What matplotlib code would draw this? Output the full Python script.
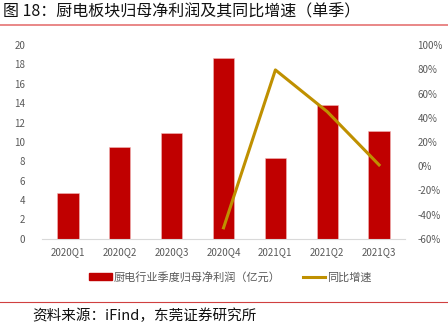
import matplotlib
matplotlib.use("Agg")
import matplotlib.pyplot as plt
from matplotlib.lines import Line2D
from matplotlib.patches import Patch
from matplotlib.ticker import FuncFormatter

plt.rcParams['font.family'] = ['Noto Sans CJK SC', 'DejaVu Sans']

quarters = ["2020Q1", "2020Q2", "2020Q3", "2020Q4", "2021Q1", "2021Q2", "2021Q3"]
net_profit = [4.7, 9.5, 10.9, 18.7, 8.3, 13.8, 11.1]
yoy_quarters = ["2020Q4", "2021Q1", "2021Q2", "2021Q3"]
yoy_growth = [-51.0, 79.5, 45.0, 1.0]

bar_color = "#C00000"
line_color = "#BF9000"
tick_color = "#595959"

fig = plt.figure(figsize=(4.48, 3.27), dpi=100)
ax = fig.add_axes([0.094, 0.270, 0.810, 0.592])

x = list(range(len(quarters)))
ax.bar(x, net_profit, width=0.41, color=bar_color, edgecolor="#F2B8B8", linewidth=0.4, zorder=2)
ax.set_xlim(-0.5, len(quarters) - 0.5)
ax.set_ylim(0, 20)
ax.set_yticks(range(0, 21, 2))
ax.set_xticks(x)
ax.set_xticklabels(quarters)

ax2 = ax.twinx()
line_x = [quarters.index(q) for q in yoy_quarters]
ax2.plot(line_x, yoy_growth, color=line_color, linewidth=2.2, zorder=3)
ax2.set_ylim(-60, 100)
ax2.set_yticks(range(-60, 101, 20))
ax2.yaxis.set_major_formatter(FuncFormatter(lambda v, p: f"{int(v)}%"))

for a in (ax, ax2):
    for s in a.spines.values():
        s.set_visible(False)
    a.tick_params(length=0, labelsize=7, colors=tick_color)
ax.spines['bottom'].set_visible(True)
ax.spines['bottom'].set_color("#D9D9D9")
ax.spines['bottom'].set_linewidth(0.8)
ax.tick_params(axis='y', pad=12)
ax.tick_params(axis='x', pad=6)
ax2.tick_params(axis='y', pad=9)

handles = [Patch(facecolor=bar_color, edgecolor=bar_color),
           Line2D([0], [0], color=line_color, linewidth=2.2)]
labels = ["厨电行业季度归母净利润（亿元）", "同比增速"]
fig.legend(handles, labels, loc="center", bbox_to_anchor=(0.515, 0.152), ncol=2,
           frameon=False, fontsize=8.0, handlelength=2.0, handleheight=0.6,
           columnspacing=2.0, handletextpad=0.2, labelcolor=tick_color)

fig.text(0.006, 0.962, "图 18：厨电板块归母净利润及其同比增速（单季）", fontsize=11.5,
         color="#111111", va="center", ha="left")
fig.add_artist(Line2D([0, 1], [0.925, 0.925], color="#E57373", linewidth=1.2,
                      transform=fig.transFigure))
fig.add_artist(Line2D([0, 1], [0.077, 0.077], color="#D04040", linewidth=0.8,
                      transform=fig.transFigure))
fig.text(0.071, 0.033, "资料来源：iFind，东莞证券研究所", fontsize=10.5,
         color="#111111", va="center", ha="left")

fig.savefig("out.png", dpi=100)
